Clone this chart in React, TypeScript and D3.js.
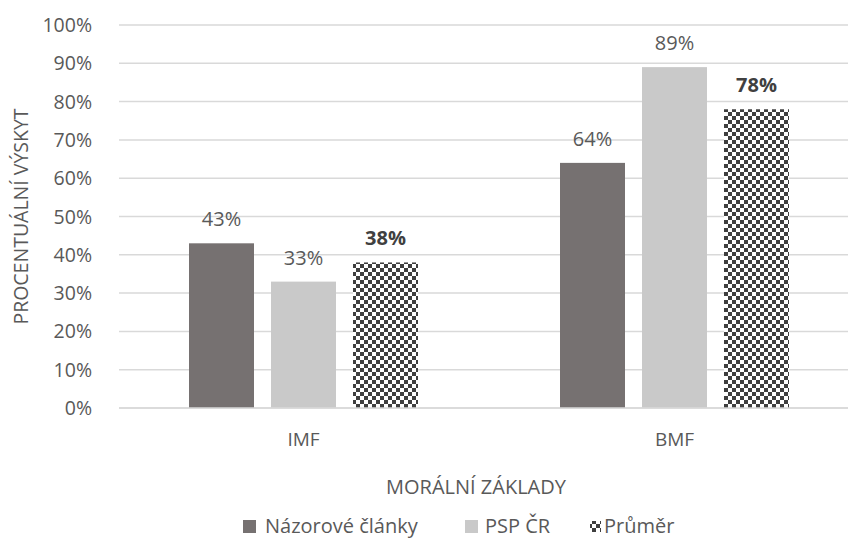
import React from "react";
import * as d3 from "d3";

const categories = ["IMF", "BMF"];
const seriesNames = ["Názorové články", "PSP ČR", "Průměr"];
const seriesValues = [
  [43, 64],
  [33, 89],
  [38, 78],
];
const yTicks = [0, 10, 20, 30, 40, 50, 60, 70, 80, 90, 100];

const W = 848;
const H = 540;
const FONT = "'Open Sans', sans-serif";
const TXT = "#595959";
const colors = ["#767171", "#C9C9C9", "url(#checker)"];

export default function App() {
  const x0 = 118, x1 = 860, yTop = 25, yBot = 408;
  const y = d3.scaleLinear().domain([0, 100]).range([yBot, yTop]);
  const xBand = d3.scaleBand().domain(categories).range([x0, x1]).paddingInner(0).paddingOuter(0);
  const bw = xBand.bandwidth();
  const barW = bw * (65 / 371);
  const pitch = bw * (82 / 371);
  const groupW = barW * 3 + (pitch - barW) * 2;
  const legendBase = 533;
  const legend = [
    { x: 243, w: 13, tx: 265 },
    { x: 465, w: 13, tx: 485 },
    { x: 590, w: 11, tx: 604 },
  ];
  return (
    <svg width={W} height={H} style={{ position: "absolute", left: 0, top: 0, background: "#fff" }}>
      <defs>
        <pattern id="checker" width={8} height={8} patternUnits="userSpaceOnUse">
          <rect width={8} height={8} fill="#fff" />
          <rect x={0} y={0} width={4} height={4} fill="#3f3f3f" />
          <rect x={4} y={4} width={4} height={4} fill="#3f3f3f" />
        </pattern>
      </defs>
      <rect width={W} height={H} fill="#fff" />
      {yTicks.map((t) => (
        <g key={t}>
          <line x1={x0 + 1} x2={W} y1={y(t)} y2={y(t)} stroke="#D9D9D9" strokeWidth={1.5} />
          <text x={92} y={y(t)} dy="0.36em" textAnchor="end" fontFamily={FONT} fontSize={19.5} fill={TXT}>
            {t}%
          </text>
        </g>
      ))}
      {categories.map((c, ci) => {
        const gx = (xBand(c) as number) + (bw - groupW) / 2;
        return (
          <g key={c}>
            {seriesValues.map((vals, si) => {
              const v = vals[ci];
              const bx = gx + si * pitch;
              return (
                <g key={si}>
                  <rect x={bx} y={y(v)} width={barW} height={yBot - y(v)} fill={colors[si]} />
                  <text
                    x={bx + barW / 2}
                    y={y(v) - 17}
                    textAnchor="middle"
                    fontFamily={FONT}
                    fontSize={20}
                    fontWeight={si === 2 ? 700 : 400}
                    fill={si === 2 ? "#404040" : TXT}
                  >
                    {v}%
                  </text>
                </g>
              );
            })}
            <text x={(xBand(c) as number) + bw / 2} y={446} textAnchor="middle" fontFamily={FONT} fontSize={19} fill={TXT}>
              {c}
            </text>
          </g>
        );
      })}
      <line x1={x0 + 1} x2={W} y1={yBot} y2={yBot} stroke="#D9D9D9" strokeWidth={1.5} />
      <text
        transform={`translate(28, ${(yTop + yBot) / 2}) rotate(-90)`}
        textAnchor="middle"
        fontFamily={FONT}
        fontSize={19.5}
        fill={TXT}
      >
        PROCENTUÁLNÍ VÝSKYT
      </text>
      <text x={476} y={494} textAnchor="middle" fontFamily={FONT} fontSize={20} fill={TXT}>
        MORÁLNÍ ZÁKLADY
      </text>
      {legend.map((l, i) => (
        <g key={i}>
          <rect x={l.x} y={legendBase - 13 + (13 - l.w) / 2} width={l.w} height={l.w} fill={colors[i]} />
          <text x={l.tx} y={legendBase} fontFamily={FONT} fontSize={20} fill={TXT}>
            {seriesNames[i]}
          </text>
        </g>
      ))}
    </svg>
  );
}
